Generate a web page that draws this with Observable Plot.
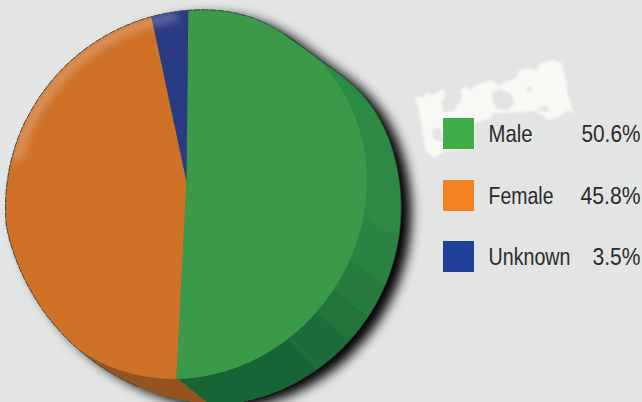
<!DOCTYPE html>
<html><head><meta charset="utf-8">
<script src="https://cdn.jsdelivr.net/npm/d3@7"></script>
<script src="https://cdn.jsdelivr.net/npm/@observablehq/plot@0.6"></script>
<style>
html,body{margin:0;padding:0;background:#e3e4e4;overflow:hidden}
svg{display:block;background:transparent!important}
</style></head><body>
<script>
const categories=["Male","Female","Unknown"];
const shares=[50.6,45.8,3.5];
const shareLabels=["50.6%","45.8%","3.5%"];
const faceColors=["#3a9a49","#cf7127","#2a3b84"];
const swatchColors=["#3fae49","#f58220","#21409a"];
const nameWidths=[44,65,82];
const labelWidths=[59,60,48];
const labelStarts=[581,580,592];
const rad=d=>d*Math.PI/180;
const B={x:203,y:207,r:198},C={x:225,y:180,r:224},F={x:185.5,y:193.5,rx:180.5,ry:184.5},apex={x:186,y:181};
const inB=p=>{const t=Math.atan2(p.y-B.y,p.x-B.x)*180/Math.PI;return Math.hypot(p.x-B.x,p.y-B.y)<=B.r-10*Math.exp(-(((t+54)/17)**2));};
const inC=p=>Math.hypot(p.x-C.x,p.y-C.y)<=C.r;
const inSil=p=>inB(p)&&inC(p);
const inFace=p=>{
  const dx=p.x-F.x,dy=p.y-F.y,t=Math.atan2(dy,dx);
  const f=(dx>0||dy>0)?1-0.035*Math.sin(2*t):1;
  return Math.hypot(dx/F.rx,dy/F.ry)<=f&&inSil(p);
};
const edge=(c,deg,inside)=>{let t=0;while(t<300){const p={x:c.x+(t+.25)*Math.cos(rad(deg)),y:c.y+(t+.25)*Math.sin(rad(deg))};if(!inside(p))break;t+=.25;}return{x:c.x+t*Math.cos(rad(deg)),y:c.y+t*Math.sin(rad(deg))};};
const sweep=(a,b,n=120)=>d3.range(n+1).map(i=>a+(b-a)*i/n);
const poly=(pts,fill,o={})=>Plot.line(pts,{x:"x",y:"y",fill,stroke:"none",...o});
const silhouette=sweep(-180,180,480).map(d=>edge(B,d,inSil));
const facets=[[-80,8.8,-80,7.5,"#2c8a45"],[8.8,22.9,7.5,22,"#2a8342"],[22.9,33.7,22,32.9,"#267b3f"],[33.7,42.7,32.9,42.3,"#22733c"],[42.7,55,42.3,55,"#1d6c39"],[55,88.5,55,92.6,"#176537"],[88.5,180,92.6,180,"#96521f"]];
const facetMarks=facets.map(([a,b,p,q,c])=>poly([...sweep(a,b).map(d=>edge(B,d,inSil)),...sweep(q,p).map(d=>edge(F,d,inFace))],c));
const start=rad(0.6);
const arcs=d3.pie().sort(null).startAngle(start).endAngle(start+2*Math.PI)(shares);
const sliceMarks=arcs.map((a,i)=>{
  const d0=a.startAngle*180/Math.PI-90,d1=a.endAngle*180/Math.PI-90;
  return poly([apex,...sweep(d0,d1,Math.max(30,Math.round(d1-d0)*2)).map(d=>edge(apex,d,inFace))],faceColors[i]);
});
const rim=sweep(192,266,90).map(d=>{const p=edge(F,d,inFace);return{x:p.x-5*Math.cos(rad(d)),y:p.y-5*Math.sin(rad(d))};});
const outlineTop=sweep(110,300,300).map(d=>edge(B,d,inSil));
const outlineRight=sweep(-65,60,200).map(d=>edge(B,d,inSil));
// torn-paper texture behind the legend
const cropPt=([x,y])=>({x:410+x/3,y:55+y/3});
const blobOutline=[[14,125],[40,125],[48,115],[70,118],[100,100],[105,120],[92,145],[100,170],[130,165],[155,130],[150,105],[165,90],[175,105],[205,85],[240,75],[265,90],[295,75],[320,65],[325,45],[350,40],[375,45],[390,25],[430,12],[455,25],[465,70],[470,110],[490,175],[470,165],[445,185],[415,195],[375,165],[345,170],[315,170],[250,175],[235,190],[192,205],[192,280],[110,282],[70,308],[45,285],[35,220],[25,165]].map(cropPt);
const blobHoles=[[[245,110],[270,100],[300,115],[315,140],[290,165],[260,160],[245,135]],[[380,160],[400,150],[420,160],[405,172]],[[65,225],[90,215],[100,260],[70,250]],[[345,100],[360,90],[365,115]]].map(h=>h.map(cropPt));
const rows=categories.map((name,i)=>({name,label:shareLabels[i],color:swatchColors[i],top:[118,180,241][i],base:[133.5,195.5,256.5][i],labelX:labelStarts[i]}));
const plot=Plot.plot({
  width:642,height:402,margin:0,
  x:{domain:[0,642],range:[0,642],axis:null},
  y:{domain:[0,402],range:[0,402],axis:null},
  style:{background:"transparent"},
  marks:[
    poly(blobOutline,"#f8f8f4",{className:"fx-blob"}),
    ...blobHoles.map(h=>poly(h,"#e3e4e4",{className:"fx-blob"})),
    poly(silhouette,"#000",{dx:10,dy:5,className:"fx-shadow"}),
    poly(silhouette,"#2c8a45"),
    ...facetMarks,
    ...sliceMarks,
    Plot.line(rim,{x:"x",y:"y",stroke:"#fff",strokeWidth:8,strokeOpacity:.3,className:"fx-rim"}),
    Plot.line(outlineTop,{x:"x",y:"y",stroke:"#444",strokeWidth:1,strokeDasharray:"6 2"}),
    Plot.line(outlineRight,{x:"x",y:"y",stroke:"#222",strokeWidth:1,strokeOpacity:.7}),
    Plot.rect(rows,{x1:()=>443,x2:()=>474,y1:"top",y2:d=>d.top+31,fill:"color",inset:0}),
    Plot.text(rows,{x:()=>488,y:"base",text:"name",textAnchor:"start",fill:"#2b2b2b",fontSize:24,fontFamily:"'Liberation Sans',sans-serif",className:"names"}),
    Plot.text(rows,{x:"labelX",y:"base",text:"label",textAnchor:"start",fill:"#2b2b2b",fontSize:24,fontFamily:"'Liberation Sans',sans-serif",className:"labels"})
  ]
});
const svg=d3.select(plot);
const defs=svg.insert("defs",":first-child");
[["blob",.8],["shadow",6],["rim",4]].forEach(([n,s])=>{
  defs.append("filter").attr("id","f-"+n).attr("filterUnits","userSpaceOnUse").attr("x",-50).attr("y",-50).attr("width",760).attr("height",520)
    .append("feGaussianBlur").attr("stdDeviation",s);
  svg.selectAll(`.fx-${n}`).attr("filter",`url(#f-${n})`);
});
document.body.appendChild(plot);
// the reference's type is condensed: narrow the real text to the widths it has there
const squeeze=(sel,widths)=>svg.selectAll(sel).each(function(_,i){
  const s=widths[i]/this.getComputedTextLength();
  this.setAttribute("transform",(this.getAttribute("transform")||"")+` scale(${s},1)`);
});
squeeze('.names text',nameWidths);
squeeze('.labels text',labelWidths);
</script></body></html>
